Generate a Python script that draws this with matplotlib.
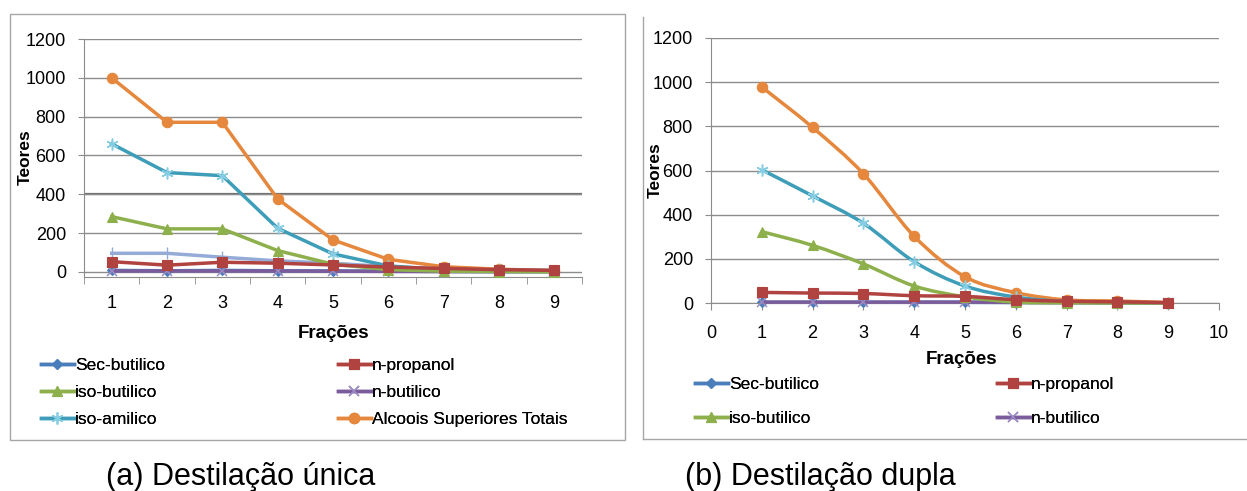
import matplotlib.pyplot as plt
import numpy as np
from matplotlib import font_manager
from matplotlib.lines import Line2D
from matplotlib.patches import PathPatch, Rectangle
from matplotlib.path import Path

# Frações destiladas
fracoes = [1, 2, 3, 4, 5, 6, 7, 8, 9]

# (a) Destilação única
sec_a = [8, 6, 8, 6, 5, 4, 3, 2, 2]
prop_a = [53, 35, 50, 45, 36, 25, 18, 12, 8]
isobut_a = [285, 222, 222, 110, 40, 12, 4, 2, 1]
nbut_a = [5, 5, 5, 5, 4, 3, 2, 2, 2]
isoamil_a = [660, 512, 496, 225, 93, 31, 12, 8, 7]
totais_a = [1000, 771, 771, 376, 165, 65, 27, 14, 7]
outro_a = [96, 96, 76, 57, 45, 27, 14, 8, 7]

# (b) Destilação dupla
sec_b = [3, 3, 3, 3, 3, 2, 2, 1, 1]
prop_b = [48, 45, 43, 33, 30, 15, 8, 5, 2]
isobut_b = [323, 261, 177, 77, 28, 4, 1, 0, 0]
nbut_b = [4, 4, 4, 4, 4, 3, 2, 2, 1]
isoamil_b = [603, 485, 361, 187, 77, 27, 6, 2, 1]
totais_b = [978, 795, 585, 302, 119, 47, 14, 9, 2]

nomes = ["Sec-butilico", "n-propanol", "iso-butilico", "n-butilico",
         "iso-amilico", "Alcoois Superiores Totais"]
cores = ["#4A7EBB", "#B0433F", "#8DB04C", "#7A5C9C", "#3E9DB8", "#E5873C"]
cores_marc = ["#4A7EBB", "#B0433F", "#8DB04C", "#9C8CC4", "#86CDE3", "#E5873C"]
marcadores = ["D", "s", "^", "x", (6, 2, 0), "o"]
tam_marc = [5.5, 7, 7.5, 7, 8.5, 7.5]

W, H = 1247, 491
nomes_fontes = {f.name for f in font_manager.fontManager.ttflist}
NARROW = "Liberation Sans Narrow" if "Liberation Sans Narrow" in nomes_fontes else "Liberation Sans"
ARIAL = "Liberation Sans"
GRADE = "#8C8C8C"


def caixa(x0, y0, x1, y1):
    # converte pixels (origem no topo) para fração da figura
    return [x0 / W, 1 - y1 / H, (x1 - x0) / W, (y1 - y0) / H]


def fig_xy(x, y):
    return (x / W, 1 - y / H)


def curva_suave(ax, x, y, **kw):
    # spline tipo Catmull-Rom convertida em Bezier cúbica
    pts = np.column_stack([np.asarray(x, float), np.asarray(y, float)])
    verts = [pts[0]]
    codes = [Path.MOVETO]
    n = len(pts)
    for i in range(n - 1):
        p0 = pts[max(i - 1, 0)]
        p1 = pts[i]
        p2 = pts[i + 1]
        p3 = pts[min(i + 2, n - 1)]
        verts += [p1 + (p2 - p0) / 6, p2 - (p3 - p1) / 6, p2]
        codes += [Path.CURVE4] * 3
    ax.add_patch(PathPatch(Path(verts, codes), fill=False, **kw))


def estilo_eixo(ax):
    for lado in ["top", "right"]:
        ax.spines[lado].set_visible(False)
    ax.spines["left"].set_color(GRADE)
    ax.spines["bottom"].set_color(GRADE)
    ax.yaxis.grid(True, color=GRADE, lw=1)
    ax.set_axisbelow(True)
    ax.set_yticks(range(0, 1201, 200))
    ax.tick_params(axis="y", length=4, color=GRADE, pad=9,
                   labelsize=13, labelfontfamily=NARROW)
    ax.patch.set_alpha(0)


def estilo_marca(i):
    return dict(color=cores[i], marker=marcadores[i], markersize=tam_marc[i],
                markerfacecolor=cores_marc[i], markeredgecolor=cores_marc[i],
                markeredgewidth=1.1 if i in (3, 4) else 0.8)


def marca(i):
    return Line2D([], [], lw=2.5, **estilo_marca(i))


def legenda(handles, labels, x, y, esp):
    leg = fig.legend(handles, labels, loc="upper left",
                     bbox_to_anchor=fig_xy(x, y), frameon=False,
                     prop={"family": NARROW, "size": 12.5},
                     handlelength=1.9, handletextpad=0.05,
                     labelspacing=esp, borderpad=0, borderaxespad=0)
    fig.add_artist(leg)


fig = plt.figure(figsize=(W / 100, H / 100), dpi=100)

# molduras dos gráficos
fig.add_artist(Rectangle(fig_xy(10, 440), (625 - 10) / W, (440 - 14) / H,
                         transform=fig.transFigure, fill=False,
                         edgecolor="#A6A6A6", lw=1))
fig.add_artist(Line2D([643 / W, 643 / W], [1 - 17 / H, 1 - 439 / H],
                      transform=fig.transFigure, color="#A6A6A6", lw=1))
fig.add_artist(Line2D([643 / W, 1], [1 - 439 / H, 1 - 439 / H],
                      transform=fig.transFigure, color="#A6A6A6", lw=1))

# ---- (a) Destilação única ----
ax1 = fig.add_axes(caixa(84, 39, 582, 277))
estilo_eixo(ax1)
ax1.set_xlim(0.5, 9.5)
ax1.set_ylim(-26, 1200)
ax1.axhline(400, color="#6E6E6E", lw=1.6, zorder=0.5)
ax1.set_xticks(fracoes)
ax1.set_xticks(np.arange(0.5, 10, 1), minor=True)
ax1.tick_params(axis="x", which="major", length=0, pad=13,
                labelsize=13, labelfontfamily=NARROW)
ax1.tick_params(axis="x", which="minor", length=5, color=GRADE)

series_a = [sec_a, prop_a, isobut_a, nbut_a, isoamil_a, totais_a]
ax1.plot(fracoes, outro_a, color="#93ABD6", lw=2.5, marker="|",
         markersize=9, markeredgewidth=1, zorder=2.2, clip_on=False)
for i in [5, 4, 2, 1, 3, 0]:
    ax1.plot(fracoes, series_a[i], lw=2.5, clip_on=False,
             zorder=3 + (5 - i) * 0.1 if i != 0 else 2.1, **estilo_marca(i))

fig.text(25 / W, 1 - 157 / H, "Teores", rotation=90, ha="center", va="center",
         family=ARIAL, weight="bold", size=12.5)
fig.text(334 / W, 1 - 333 / H, "Frações", ha="center", va="center",
         family=NARROW, weight="bold", size=13.5)
legenda([marca(0), marca(2), marca(4)], [nomes[0], nomes[2], nomes[4]],
        41, 358, 0.68)
legenda([marca(1), marca(3), marca(5)], [nomes[1], nomes[3], nomes[5]],
        338, 358, 0.68)
fig.text(241 / W, 1 - 477 / H, "(a) Destilação única", ha="center",
         va="center", family=ARIAL, size=22)

# ---- (b) Destilação dupla ----
ax2 = fig.add_axes(caixa(711, 38, 1219, 303))
estilo_eixo(ax2)
ax2.set_xlim(0, 10)
ax2.set_ylim(0, 1200)
ax2.set_xticks(range(0, 11))
ax2.tick_params(axis="x", length=5, color=GRADE, pad=11,
                labelsize=13, labelfontfamily=NARROW)

series_b = [sec_b, prop_b, isobut_b, nbut_b, isoamil_b, totais_b]
for i in [5, 4, 2, 1, 3, 0]:
    z = 3 + (5 - i) * 0.1 if i != 0 else 2.1
    curva_suave(ax2, fracoes, series_b[i], color=cores[i], lw=2.5,
                zorder=z, clip_on=False)
    ax2.plot(fracoes, series_b[i], ls="none", clip_on=False,
             zorder=z + 0.05, **estilo_marca(i))

fig.text(655 / W, 1 - 170 / H, "Teores", rotation=90, ha="center", va="center",
         family=ARIAL, weight="bold", size=12.5)
fig.text(962 / W, 1 - 360 / H, "Frações", ha="center", va="center",
         family=NARROW, weight="bold", size=13.5)
legenda([marca(0), marca(2)], [nomes[0], nomes[2]], 695, 377, 1.1)
legenda([marca(1), marca(3)], [nomes[1], nomes[3]], 997, 377, 1.1)
fig.text(820 / W, 1 - 477 / H, "(b) Destilação dupla", ha="center",
         va="center", family=ARIAL, size=22)

fig.savefig("out.png", dpi=100)
